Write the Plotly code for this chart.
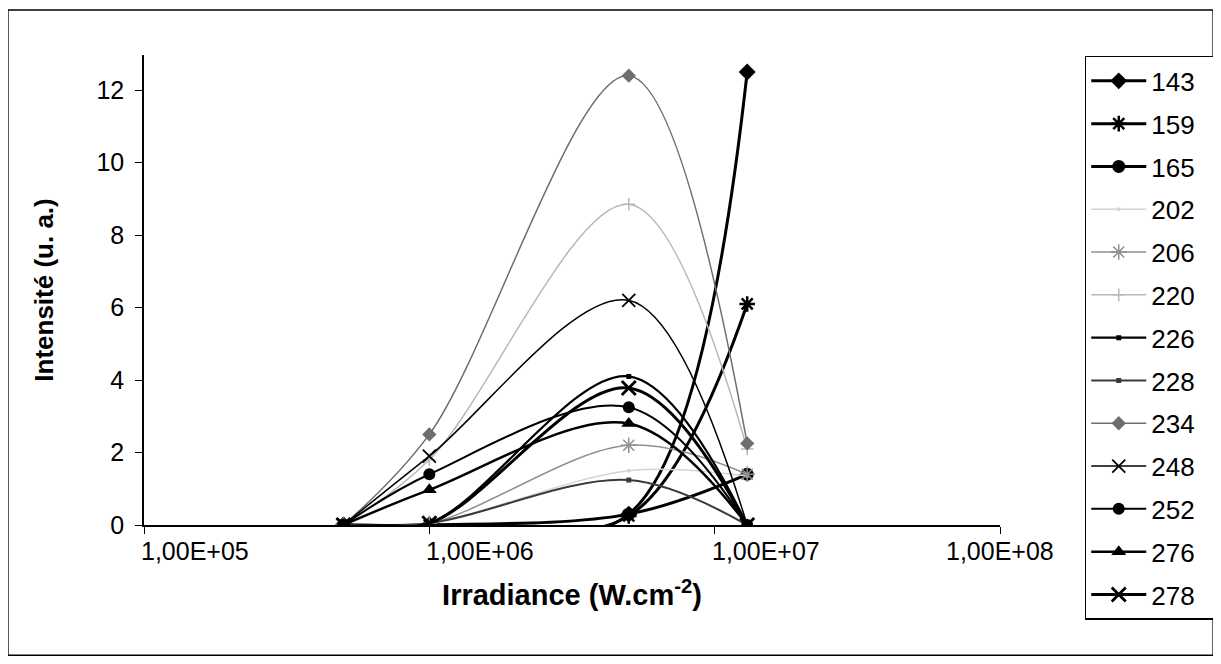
import plotly.graph_objects as go

# === DONNÉES ===
irradiance = [5e5, 1e6, 5e6, 1.3e7]

i143 = [0, 0, 0.3, 12.5]
i159 = [0, 0, 0.25, 6.1]
i165 = [0, 0, 0.3, 1.4]
i202 = [0, 0.05, 1.5, 1.35]
i206 = [0, 0.05, 2.2, 1.4]
i220 = [0, 1.8, 8.85, 2.1]
i226 = [0, 0.05, 4.1, 0]
i228 = [0, 0.05, 1.24, 0]
i234 = [0, 2.5, 12.4, 2.25]
i248 = [0, 1.9, 6.2, 0]
i252 = [0, 1.4, 3.25, 0]
i276 = [0, 0.97, 2.8, 0]
i278 = [0, 0.05, 3.78, 0]

tick_vals = [1e5, 1e6, 1e7, 1e8]
tick_text = ["1,00E+05", "1,00E+06", "1,00E+07", "1,00E+08"]

# nom, valeurs, couleur, épaisseur, symbole, taille, largeur contour symbole
series = [
    ("143", i143, "#000000", 3, "diamond", 13, 0),
    ("159", i159, "#000000", 3, "asterisk-open", 13, 2.5),
    ("165", i165, "#000000", 3, "circle", 13, 0),
    ("202", i202, "#d4d4d4", 1.5, "circle", 4, 0),
    ("206", i206, "#909090", 1.5, "asterisk-open", 13, 1.5),
    ("220", i220, "#b8b8b8", 1.5, "cross-thin-open", 9, 1.5),
    ("226", i226, "#000000", 2.2, "square", 5, 0),
    ("228", i228, "#3a3a3a", 2, "square", 5, 0),
    ("234", i234, "#6e6e6e", 1.5, "diamond", 11, 0),
    ("248", i248, "#000000", 1.5, "x-thin-open", 13, 1.8),
    ("252", i252, "#000000", 2, "circle", 12, 0),
    ("276", i276, "#000000", 2.5, "triangle-up", 13, 0),
    ("278", i278, "#000000", 3, "x-thin-open", 14, 2.8),
]

fig = go.Figure()

for nom, vals, couleur, ep, symb, taille, lw in series:
    fig.add_trace(go.Scatter(
        x=irradiance, y=vals, mode="lines+markers",
        name=nom + "\u00a0\u00a0",  # un peu d'air à droite dans la légende
        legendgroup=nom,
        line=dict(color=couleur, width=ep, shape="spline", smoothing=1),
        marker=dict(symbol=symb, size=taille, color=couleur,
                    line=dict(color=couleur, width=lw)),
    ))

# étiquettes de l'axe x (décalées comme dans l'original)
for i, (v, t) in enumerate(zip(tick_vals, tick_text)):
    last = i == len(tick_vals) - 1
    fig.add_annotation(
        x=[5, 6, 7, 8][i], xref="x", y=0, yref="paper",
        text=t, showarrow=False,
        xanchor="center" if last else "left", yanchor="top",
        xshift=0 if last else -5, yshift=-10,
        font=dict(size=25, color="black"),
    )

# cadre extérieur
fig.add_shape(type="rect", xref="paper", yref="paper",
              x0=-0.159, x1=1.249, y0=-0.277, y1=1.096,
              line=dict(color="black", width=1.5))

fig.update_layout(
    width=1213, height=656,
    margin=dict(l=136, r=221, t=47, b=139, autoexpand=False),
    paper_bgcolor="white", plot_bgcolor="white",
    font=dict(family="Liberation Sans, Arial", size=25, color="black"),
    showlegend=True,
    legend=dict(
        x=1.099, y=0.998, xanchor="left", yanchor="top",
        bordercolor="black", borderwidth=1.5, bgcolor="white",
        font=dict(size=26), tracegroupgap=6, itemwidth=55,
        maxheight=640,
    ),
)

fig.update_xaxes(
    type="log", range=[5, 8],
    tickvals=tick_vals, showticklabels=False,
    ticks="outside", ticklen=7, tickcolor="black",
    showline=True, linecolor="black", linewidth=1.5,
    showgrid=False, zeroline=False,
    title=dict(text="<b>Irradiance (W.cm<sup>-2</sup>)</b>", standoff=52,
               font=dict(size=29)),
)
fig.update_yaxes(
    range=[0, 12.97], tickvals=[0, 2, 4, 6, 8, 10, 12],
    ticks="outside", ticklen=7, tickcolor="black",
    showline=True, linecolor="black", linewidth=1.5,
    showgrid=False, zeroline=False, ticklabelstandoff=6,
    tickfont=dict(size=25),
    title=dict(text="<b>Intensité (u. a.)</b>", standoff=35,
               font=dict(size=26)),
)

fig.write_html("out.html")
